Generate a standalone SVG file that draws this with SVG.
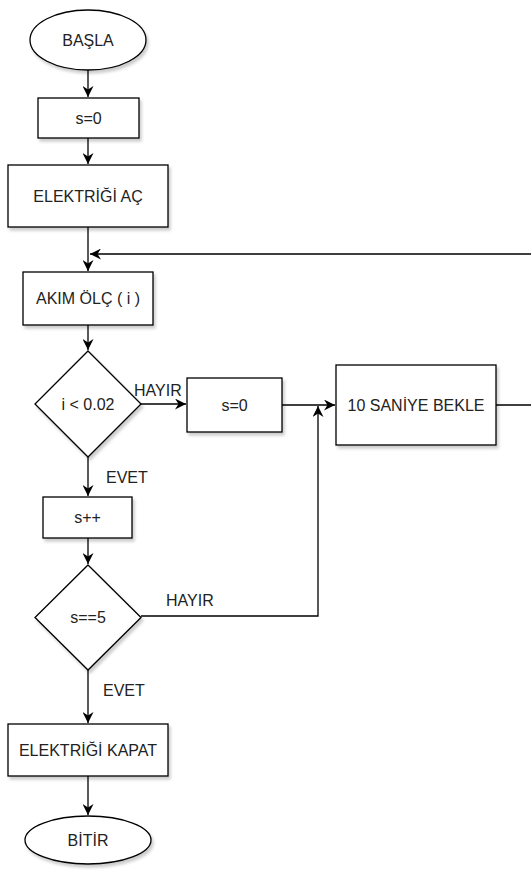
<svg xmlns="http://www.w3.org/2000/svg" width="531" height="872" viewBox="0 0 531 872">
<style>
.shape{fill:#fff;stroke:#000;stroke-width:1.3;filter:url(#sh)}
.lbl{font-family:"Liberation Sans",Arial,sans-serif;font-size:16px;fill:#222;text-anchor:middle;dominant-baseline:central}
.edge{fill:none;stroke:#000;stroke-width:1.3}
.elbl{font-family:"Liberation Sans",Arial,sans-serif;font-size:16px;fill:#222;dominant-baseline:central}
</style>
<defs>
<filter id="sh" x="-20%" y="-20%" width="150%" height="150%">
<feDropShadow dx="2" dy="3" stdDeviation="1.5" flood-color="#000" flood-opacity="0.2"/>
</filter>
<marker id="arr" viewBox="0 0 11 11" refX="11" refY="5.5" markerWidth="11" markerHeight="11" markerUnits="userSpaceOnUse" orient="auto">
<path d="M0,0 L11,5.5 L0,11 L3.5,5.5 Z" fill="#000"/>
</marker>
</defs>
<rect width="531" height="872" fill="#fff"/>
<g id="connectors">
<path class="edge" d="M88,70 V97" marker-end="url(#arr)"/>
<path class="edge" d="M88,138 V164" marker-end="url(#arr)"/>
<path class="edge" d="M88,227 V271" marker-end="url(#arr)"/>
<path class="edge" d="M496,405 H545 V254 H90" marker-end="url(#arr)"/>
<path class="edge" d="M88,325 V350" marker-end="url(#arr)"/>
<path class="edge" d="M141,404 H186" marker-end="url(#arr)"/>
<path class="edge" d="M282,405 H335" marker-end="url(#arr)"/>
<path class="edge" d="M88,457 V496" marker-end="url(#arr)"/>
<path class="edge" d="M88,538 V564" marker-end="url(#arr)"/>
<path class="edge" d="M141,616 H318 V406" marker-end="url(#arr)"/>
<path class="edge" d="M88,670 V723" marker-end="url(#arr)"/>
<path class="edge" d="M88,776 V815" marker-end="url(#arr)"/>
<text class="elbl" x="134" y="390">HAYIR</text>
<text class="elbl" x="106" y="477">EVET</text>
<text class="elbl" x="166" y="600">HAYIR</text>
<text class="elbl" x="103" y="690">EVET</text>
</g>
<g id="basla">
<ellipse class="shape" cx="88" cy="40" rx="58" ry="30"/>
<text class="lbl" x="88" y="40">BAŞLA</text>
</g>
<g id="s0a">
<rect class="shape" x="38" y="98" width="101" height="40"/>
<text class="lbl" x="88.5" y="118">s=0</text>
</g>
<g id="elektrigi-ac">
<rect class="shape" x="8" y="165" width="160" height="62"/>
<text class="lbl" x="88" y="196">ELEKTRİĞİ AÇ</text>
</g>
<g id="akim-olc">
<rect class="shape" x="23" y="272" width="130" height="53"/>
<text class="lbl" x="88" y="298.5">AKIM ÖLÇ ( i )</text>
</g>
<g id="cond1">
<path class="shape" d="M88,351 L141,404 L88,457 L35,404 Z"/>
<text class="lbl" x="88" y="404">i &lt; 0.02</text>
</g>
<g id="s0b">
<rect class="shape" x="187" y="378" width="95" height="54"/>
<text class="lbl" x="234.5" y="405">s=0</text>
</g>
<g id="bekle">
<rect class="shape" x="336" y="365" width="160" height="80"/>
<text class="lbl" x="416" y="405">10 SANİYE BEKLE</text>
</g>
<g id="spp">
<rect class="shape" x="43" y="497" width="89" height="41"/>
<text class="lbl" x="87.5" y="517.5">s++</text>
</g>
<g id="cond2">
<path class="shape" d="M88,565 L141,617.5 L88,670 L35,617.5 Z"/>
<text class="lbl" x="88" y="617.5">s==5</text>
</g>
<g id="elektrigi-kapat">
<rect class="shape" x="8" y="724" width="160" height="52"/>
<text class="lbl" x="88" y="750">ELEKTRİĞİ KAPAT</text>
</g>
<g id="bitir">
<ellipse class="shape" cx="88" cy="840" rx="63" ry="24"/>
<text class="lbl" x="88" y="840">BİTİR</text>
</g>
</svg>
